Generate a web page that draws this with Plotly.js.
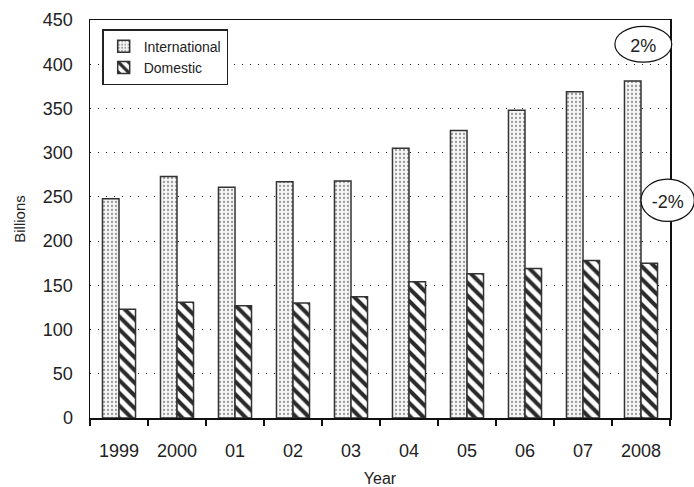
<!DOCTYPE html>
<html><head><meta charset="utf-8">
<script src="https://cdn.plot.ly/plotly-3.0.1.min.js"></script>
<style>body{margin:0;background:#fff}</style>
</head><body>
<div id="chart" style="width:694px;height:487px"></div>
<script>
const years = ["1999","2000","01","02","03","04","05","06","07","2008"];
const international = [248,273,261,267,268,305,325,348,369,381];
const domestic = [123,131,127,130,137,154,163,169,178,175];
const yTicks = [0,50,100,150,200,250,300,350,400,450];
const FONT = '"Liberation Sans", Arial, Helvetica, sans-serif';

const traces = [
  {type:'bar', name:'International', x:years, y:international,
   marker:{color:'#ffffff', line:{color:'#333', width:1.5},
     pattern:{shape:'.', fgcolor:'#999', bgcolor:'#f6f6f6', size:4, solidity:0.25}}},
  {type:'bar', name:'Domestic', x:years, y:domestic,
   marker:{color:'#ffffff', line:{color:'#333', width:1.5},
     pattern:{shape:'\\', fgcolor:'#2a2a2a', bgcolor:'#ffffff', size:9, solidity:0.45}}}
];

const layout = {
  width:694, height:487,
  margin:{l:90, r:24, t:20, b:69},
  paper_bgcolor:'#fff', plot_bgcolor:'#fff',
  font:{family:FONT, color:'#222', size:17},
  barmode:'group', bargap:0.43, bargroupgap:0,
  showlegend:true,
  legend:{x:0.021, y:0.977, xanchor:'left', yanchor:'top', bgcolor:'#fff',
    bordercolor:'#222', borderwidth:1.5, font:{size:14, family:FONT},
    tracegroupgap:2, itemwidth:30},
  xaxis:{type:'category', tickvals:years, ticktext:years,
    showline:true, linecolor:'#111', linewidth:1.5, mirror:true,
    ticks:'outside', tickson:'boundaries', ticklen:6, tickwidth:2, tickcolor:'#111',
    showgrid:false, tickfont:{size:18}, ticklabelstandoff:16,
    title:{text:'Year', font:{size:16}, standoff:14}},
  yaxis:{range:[0,450], tickvals:yTicks, showline:true, linecolor:'#111', linewidth:1.5, mirror:true,
    ticks:'', showgrid:true, gridcolor:'#222', gridwidth:1, griddash:'1px,7px',
    zeroline:false, tickfont:{size:18}, ticklabelstandoff:12,
    title:{text:'Billions', font:{size:15}, standoff:13}},
  shapes:[
    {type:'circle', xref:'paper', yref:'paper', x0:0.905, x1:1.003, y0:0.894, y1:0.984,
     fillcolor:'#fff', line:{color:'#111', width:1.2}, layer:'above',
     label:{text:'2%', font:{size:18, family:FONT, color:'#222'}, textposition:'middle center'}},
    {type:'circle', xref:'paper', yref:'paper', x0:0.950, x1:1.042, y0:0.494, y1:0.600,
     fillcolor:'#fff', line:{color:'#111', width:1.2}, layer:'above',
     label:{text:'-2%', font:{size:18, family:FONT, color:'#222'}, textposition:'middle center'}}
  ]
};
Plotly.newPlot('chart', traces, layout, {displayModeBar:false, staticPlot:true});
</script>
</body></html>
